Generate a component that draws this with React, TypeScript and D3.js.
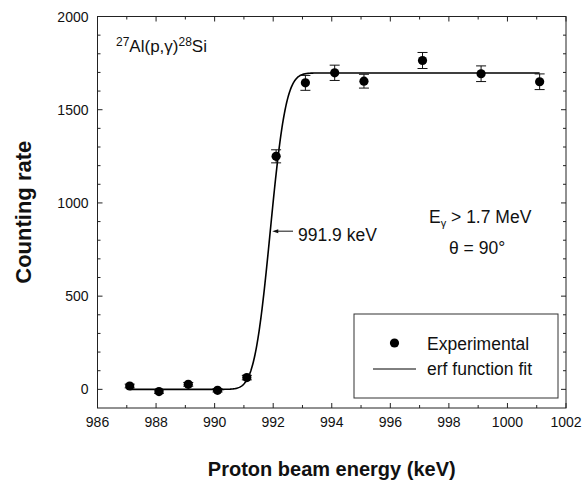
import React from "react";
import * as d3 from "d3";

// Measured counting rates for the 27Al(p,γ)28Si resonance scan
const energies = [987.1, 988.1, 989.1, 990.1, 991.1, 992.1, 993.1, 994.1, 995.1, 997.1, 999.1, 1001.1];
const rates = [18, -12, 27, -5, 63, 1250, 1644, 1698, 1653, 1764, 1693, 1650];
const errors = [10, 9, 10, 9, 12, 35, 40, 41, 37, 43, 42, 42];

// erf function fit parameters
const fitCenter = 991.9;
const fitPlateau = 1697;
const fitWidth = 0.6;
const fitStart = 987.1;
const fitEnd = 1001.1;

const xMajorTicks = [986, 988, 990, 992, 994, 996, 998, 1000, 1002];
const yMajorTicks = [0, 500, 1000, 1500, 2000];

const W = 584;
const H = 489;
const left = 97.5;
const right = 566;
const top = 16.5;
const bottom = 408;
const FONT = "'Liberation Sans', Arial, Helvetica, sans-serif";

// Abramowitz & Stegun 7.1.26
function erf(z: number): number {
  const s = z < 0 ? -1 : 1;
  const a = Math.abs(z);
  const t = 1 / (1 + 0.3275911 * a);
  const y =
    1 -
    (((((1.061405429 * t - 1.453152027) * t + 1.421413741) * t - 0.284496736) * t + 0.254829592) * t) *
      Math.exp(-a * a);
  return s * y;
}

export default function App() {
  const x = d3.scaleLinear().domain([986, 1002]).range([left, right]);
  const y = d3.scaleLinear().domain([-100, 2000]).range([bottom, top]);

  const xMinor = d3.range(986, 1002.001, 1).filter((v) => !xMajorTicks.includes(v));
  const yMinor = d3.range(-100, 2000.001, 100).filter((v) => !yMajorTicks.includes(v) && v > -100);

  const fitX = d3.range(fitStart, fitEnd + 1e-6, 0.02);
  const fitPath = d3
    .line<number>()
    .x((e) => x(e))
    .y((e) => y((fitPlateau / 2) * (1 + erf((e - fitCenter) / fitWidth))))(fitX);

  const data = energies.map((e, i) => ({ e, r: rates[i], err: errors[i] }));
  const major = 5;
  const minor = 3;
  const axisColor = "#222";

  const arrowY = y(fitPlateau / 2);
  const arrowTip = x(fitCenter) + 2;

  return (
    <svg
      width={W}
      height={H}
      style={{ position: "absolute", left: 0, top: 0, background: "#fff" }}
      fontFamily={FONT}
    >
      <rect x={0} y={0} width={W} height={H} fill="#fff" />

      {/* frame */}
      <rect x={left} y={top} width={right - left} height={bottom - top} fill="none" stroke={axisColor} strokeWidth={1} />

      {/* x ticks, inward on bottom and top */}
      {xMajorTicks.map((v) => (
        <g key={"xM" + v} stroke={axisColor} strokeWidth={1}>
          <line x1={x(v)} x2={x(v)} y1={bottom} y2={bottom - major} />
          <line x1={x(v)} x2={x(v)} y1={top} y2={top + major} />
        </g>
      ))}
      {xMinor.map((v) => (
        <g key={"xm" + v} stroke={axisColor} strokeWidth={1}>
          <line x1={x(v)} x2={x(v)} y1={bottom} y2={bottom - minor} />
          <line x1={x(v)} x2={x(v)} y1={top} y2={top + minor} />
        </g>
      ))}
      {xMajorTicks.map((v) => (
        <text key={"xl" + v} x={x(v)} y={bottom + 19} fontSize={14} textAnchor="middle" fill="#111">
          {v}
        </text>
      ))}

      {/* y ticks, inward on left and right */}
      {yMajorTicks.map((v) => (
        <g key={"yM" + v} stroke={axisColor} strokeWidth={1}>
          <line x1={left} x2={left + major} y1={y(v)} y2={y(v)} />
          <line x1={right} x2={right - major} y1={y(v)} y2={y(v)} />
        </g>
      ))}
      {yMinor.map((v) => (
        <g key={"ym" + v} stroke={axisColor} strokeWidth={1}>
          <line x1={left} x2={left + minor} y1={y(v)} y2={y(v)} />
          <line x1={right} x2={right - minor} y1={y(v)} y2={y(v)} />
        </g>
      ))}
      {yMajorTicks.map((v) => (
        <text key={"yl" + v} x={left - 9} y={y(v) + 5} fontSize={14} textAnchor="end" fill="#111">
          {v}
        </text>
      ))}

      {/* axis titles */}
      <text x={(left + right) / 2} y={476} fontSize={20} fontWeight="bold" textAnchor="middle" fill="#111">
        Proton beam energy (keV)
      </text>
      <text
        transform={`translate(31,${(top + bottom) / 2}) rotate(-90)`}
        fontSize={22}
        fontWeight="bold"
        textAnchor="middle"
        fill="#111"
      >
        Counting rate
      </text>

      {/* erf fit */}
      <path d={fitPath ?? ""} fill="none" stroke="#000" strokeWidth={1.6} />

      {/* experimental points with error bars */}
      {data.map((d) => (
        <g key={"p" + d.e}>
          <line x1={x(d.e)} x2={x(d.e)} y1={y(d.r - d.err)} y2={y(d.r + d.err)} stroke="#111" strokeWidth={1} />
          <line x1={x(d.e) - 5} x2={x(d.e) + 5} y1={y(d.r - d.err)} y2={y(d.r - d.err)} stroke="#111" strokeWidth={1} />
          <line x1={x(d.e) - 5} x2={x(d.e) + 5} y1={y(d.r + d.err)} y2={y(d.r + d.err)} stroke="#111" strokeWidth={1} />
          <circle cx={x(d.e)} cy={y(d.r)} r={4.6} fill="#000" />
        </g>
      ))}

      {/* reaction label */}
      <text x={116} y={52} fontSize={17} fill="#111">
        <tspan fontSize={12} dy={-6}>27</tspan>
        <tspan dy={6}>Al(p,γ)</tspan>
        <tspan fontSize={12} dy={-6}>28</tspan>
        <tspan dy={6}>Si</tspan>
      </text>

      {/* resonance energy annotation */}
      <line x1={arrowTip + 4} x2={293} y1={arrowY} y2={arrowY} stroke="#111" strokeWidth={1} />
      <path d={`M${arrowTip},${arrowY} L${arrowTip + 6},${arrowY - 2} L${arrowTip + 6},${arrowY + 2} Z`} fill="#111" />
      <text x={298} y={241} fontSize={17.5} fill="#111">
        {fitCenter} keV
      </text>

      {/* measurement conditions */}
      <text x={429} y={223} fontSize={17.5} fill="#111">
        E<tspan fontSize={11} dy={4}>γ</tspan>
        <tspan dy={-4}> &gt; 1.7 MeV</tspan>
      </text>
      <text x={449} y={254} fontSize={17.5} fill="#111">
        θ = 90°
      </text>

      {/* legend */}
      <rect x={354} y={314} width={204} height={84} fill="#fff" stroke="#333" strokeWidth={1} />
      <circle cx={394.5} cy={343} r={4.6} fill="#000" />
      <text x={427} y={350} fontSize={17.5} fill="#111">
        Experimental
      </text>
      <line x1={373} x2={416} y1={369} y2={369} stroke="#000" strokeWidth={1} />
      <text x={427} y={375} fontSize={17.5} fill="#111">
        erf function fit
      </text>
    </svg>
  );
}
